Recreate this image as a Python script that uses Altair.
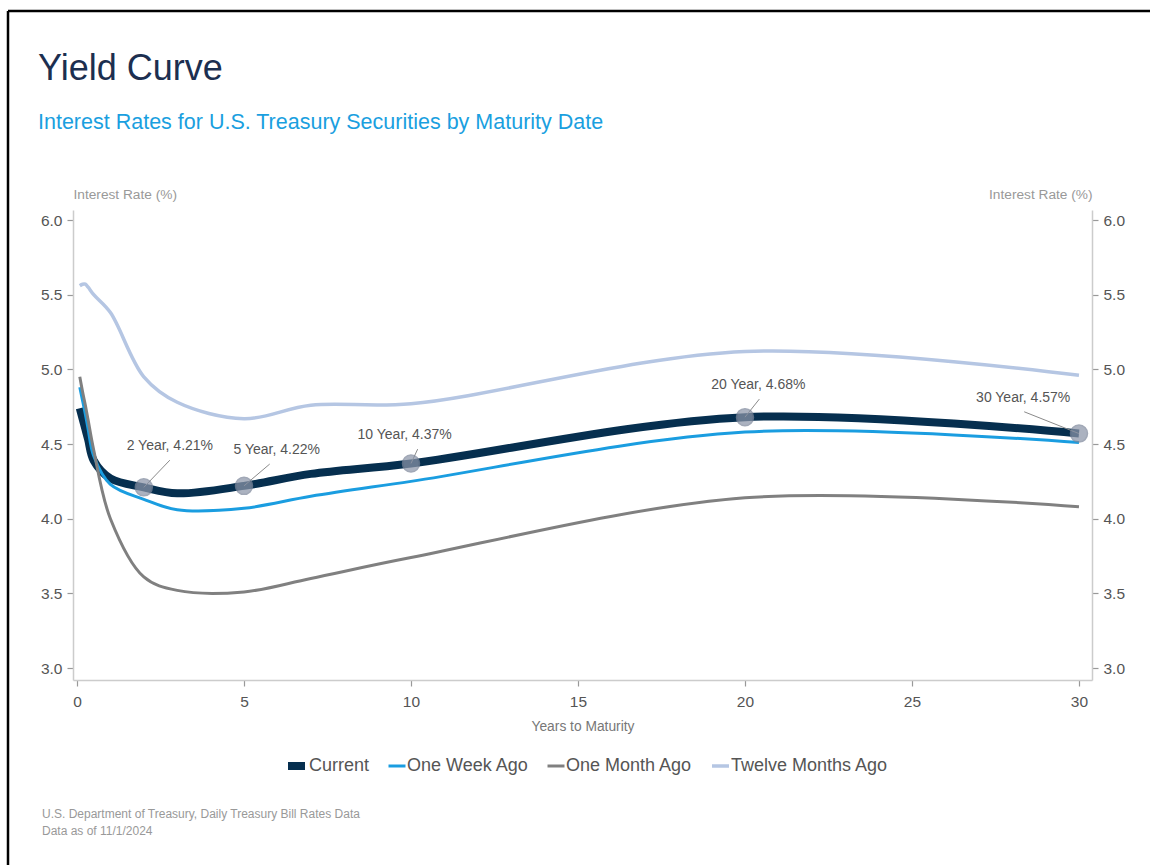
import altair as alt
import pandas as pd

# ---- data ----
years = [1 / 12, 2 / 12, 3 / 12, 4 / 12, 0.5, 1, 2, 3, 5, 7, 10, 20, 30]
current = [4.74, 4.67, 4.60, 4.53, 4.39, 4.27, 4.21, 4.17, 4.22, 4.30, 4.37, 4.68, 4.57]
one_week = [4.88, 4.79, 4.70, 4.60, 4.42, 4.23, 4.13, 4.06, 4.07, 4.15, 4.25, 4.58, 4.51]
one_month = [4.95, 4.85, 4.76, 4.66, 4.46, 4.00, 3.61, 3.52, 3.51, 3.60, 3.74, 4.14, 4.08]
twelve_months = [5.56, 5.57, 5.57, 5.55, 5.50, 5.38, 4.95, 4.78, 4.67, 4.76, 4.77, 5.12, 4.96]

series_names = ["Current", "One Week Ago", "One Month Ago", "Twelve Months Ago"]
series_values = [current, one_week, one_month, twelve_months]
series_colors = ["#062f4f", "#1a9de0", "#808080", "#b5c6e3"]
series_widths = [8, 3, 3, 3.5]

ann_years = [2, 5, 10, 20, 30]
ann_labels = ["2 Year, 4.21%", "5 Year, 4.22%", "10 Year, 4.37%", "20 Year, 4.68%", "30 Year, 4.57%"]
ann_label_x = [2.78, 5.98, 9.81, 20.40, 28.33]
ann_label_y = [4.486, 4.46, 4.56, 4.895, 4.81]
ann_leader_x = [2.78, 5.77, 10.20, 20.43, 28.36]

x_ticks = [0, 5, 10, 15, 20, 25, 30]
y_ticks = [3.0, 3.5, 4.0, 4.5, 5.0, 5.5, 6.0]

# ---- tables ----
rows = []
for name, vals in zip(series_names, series_values):
    for yr, v in zip(years, vals):
        rows.append({"years": yr, "rate": v, "series": name})
df = pd.DataFrame(rows)

ann_rates = [current[years.index(y)] for y in ann_years]
ann = pd.DataFrame({
    "years": ann_years,
    "rate": ann_rates,
    "label": ann_labels,
    "label_x": ann_label_x,
    "label_y": ann_label_y,
    "leader_x": ann_leader_x,
    "leader_y": [v - 0.094 for v in ann_label_y],
})

REG = "Liberation Sans, Arial, sans-serif"

xs = alt.Scale(domain=[-0.12, 30.39], nice=False, zero=False)
ys = alt.Scale(domain=[2.92, 6.067], nice=False, zero=False)

x_axis = alt.Axis(values=x_ticks, title="Years to Maturity", format="d",
                  labelPadding=8, titlePadding=10, titleColor="#777777",
                  titleFontSize=13.8)

y_left = alt.Axis(values=y_ticks, format=".1f", orient="left",
                  title="Interest Rate (%)", titleAngle=0, titleAlign="left",
                  titleX=0, titleY=-12, titleBaseline="alphabetic", labelPadding=5)
y_right = alt.Axis(values=y_ticks, format=".1f", orient="right",
                   title="Interest Rate (%)", titleAngle=0, titleAlign="right",
                   titleX=0, titleY=-12, titleBaseline="alphabetic", labelPadding=5)

X = alt.X("years:Q", scale=xs, axis=x_axis)

lines = alt.Chart(df).mark_line(interpolate="catmull-rom").encode(
    x=X,
    y=alt.Y("rate:Q", scale=ys, axis=y_left),
    color=alt.Color("series:N", sort=series_names,
                    scale=alt.Scale(domain=series_names, range=series_colors),
                    legend=alt.Legend(title=None)),
    strokeWidth=alt.StrokeWidth("series:N", sort=series_names,
                                scale=alt.Scale(type="ordinal", domain=series_names,
                                                range=series_widths),
                                legend=alt.Legend(title=None)),
)

leaders = alt.Chart(ann).mark_rule(color="#8a8a8a", strokeWidth=1).encode(
    x=alt.X("years:Q", scale=xs, axis=x_axis),
    y=alt.Y("rate:Q", scale=ys),
    x2="leader_x:Q",
    y2="leader_y:Q",
)

points = alt.Chart(ann).mark_circle(size=290, color="#8c95a8", opacity=0.72,
                                    stroke="#7d879b", strokeWidth=1.5).encode(
    x=alt.X("years:Q", scale=xs, axis=x_axis),
    y=alt.Y("rate:Q", scale=ys),
)

labels = alt.Chart(ann).mark_text(font=REG, fontSize=14, color="#555555",
                                  baseline="middle", align="center").encode(
    x=alt.X("label_x:Q", scale=xs, axis=x_axis),
    y=alt.Y("label_y:Q", scale=ys),
    text="label:N",
)

one = alt.Data(values=[{}])

title = alt.Chart(one).mark_text(text="Yield Curve", font=REG, fontSize=36,
                                 color="#1c2f50", align="left",
                                 baseline="alphabetic").encode(
    x=alt.value(-35), y=alt.value(-130))
subtitle = alt.Chart(one).mark_text(
    text="Interest Rates for U.S. Treasury Securities by Maturity Date",
    font=REG, fontSize=21.5, color="#1a9fdf", align="left",
    baseline="alphabetic").encode(x=alt.value(-35), y=alt.value(-81))
foot1 = alt.Chart(one).mark_text(
    text="U.S. Department of Treasury, Daily Treasury Bill Rates Data",
    font=REG, fontSize=12, color="#999999", align="left",
    baseline="alphabetic").encode(x=alt.value(-31), y=alt.value(608))
foot2 = alt.Chart(one).mark_text(
    text="Data as of 11/1/2024", font=REG, fontSize=12, color="#999999",
    align="left", baseline="alphabetic").encode(x=alt.value(-31), y=alt.value(625))

border_top = alt.Chart(one).mark_rule(color="black", strokeWidth=2.5).encode(
    x=alt.value(-65), x2=alt.value(1077), y=alt.value(-199))
border_left = alt.Chart(one).mark_rule(color="black", strokeWidth=2.5).encode(
    x=alt.value(-65), y=alt.value(-199), y2=alt.value(655))

main = alt.layer(lines, leaders, points, labels, title, subtitle, foot1, foot2,
                 border_top, border_left)

right = alt.Chart(ann).mark_point(opacity=0).encode(
    x=alt.X("years:Q", scale=xs, axis=x_axis),
    y=alt.Y("rate:Q", scale=ys, axis=y_right),
)

chart = alt.layer(main, right).resolve_scale(y="independent").properties(
    width=1019,
    height=470,
    autosize=alt.AutoSizeParams(type="none"),
    padding={"left": 73, "top": 210, "right": 58, "bottom": 185},
    background="white",
).configure_view(stroke="transparent").configure_axis(
    grid=False,
    domainColor="#cccccc",
    domainWidth=1.5,
    tickColor="#999999",
    tickSize=6,
    tickWidth=1.2,
    labelFont=REG,
    labelFontSize=15.5,
    labelColor="#555555",
    titleFont=REG,
    titleFontSize=13.7,
    titleColor="#999999",
    titleFontWeight="normal",
).configure_legend(
    orient="none",
    legendX=211,
    legendY=543,
    direction="horizontal",
    symbolType="stroke",
    symbolSize=289,
    clipHeight=26,
    labelFont=REG,
    labelFontSize=18,
    labelColor="#555555",
    labelOffset=0,
    labelLimit=400,
    columnPadding=17,
)

chart.save("out.html", embed_options={"renderer": "svg", "actions": False})
